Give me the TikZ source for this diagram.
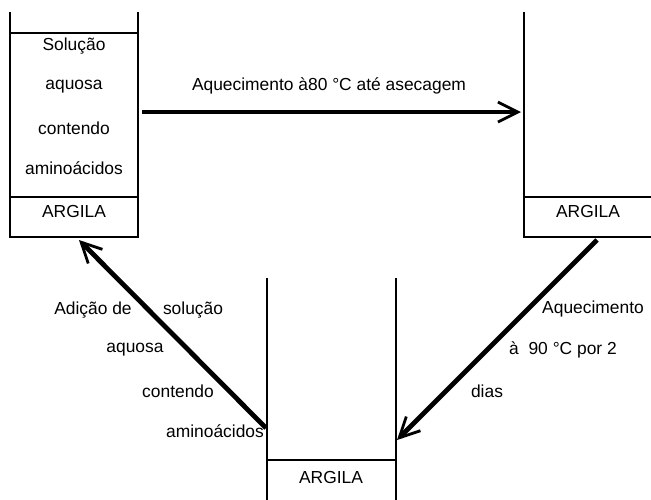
\documentclass[tikz,border=0pt]{standalone}
\usepackage{fontspec}
\setmainfont{Liberation Sans}
\usetikzlibrary{arrows.meta}
\tikzset{
  wall/.style={line width=0.75pt},
  flow/.style={line width=2.4pt, -{Straight Barb[length=10pt,width=10pt,line width=1.4pt]}},
  lbl/.style={font=\fontsize{8.7}{10}\selectfont, inner sep=0pt},
}
\begin{document}
\begin{tikzpicture}[x=0.5pt,y=-0.5pt]
\useasboundingbox (0,0) rectangle (651,499);
% left beaker
\draw[wall] (10,12) -- (10,237) -- (138,237) -- (138,12);
\draw[wall] (10,33) -- (138,33);
\draw[wall] (10,197) -- (138,197);
\node[lbl] (sol1) at (74,46) {Solução};
\node[lbl] (sol2) at (74,87) {aquosa};
\node[lbl] (sol3) at (74,128) {contendo};
\node[lbl] (sol4) at (74,168) {aminoácidos};
\node[lbl] (argL) at (74,212) {ARGILA};
% right beaker
\draw[wall] (524,12) -- (524,237) -- (652,237) -- (652,12);
\draw[wall] (524,197) -- (652,197);
\node[lbl] (argR) at (588,212) {ARGILA};
% bottom beaker
\draw[wall] (267,278) -- (267,502) (396,278) -- (396,502);
\draw[wall] (267,460) -- (396,460);
\node[lbl] (argB) at (331,477) {ARGILA};
% arrow ends
\coordinate (p1) at (142,112);
\coordinate (p2) at (521,112);
\coordinate (q1) at (597,240);
\coordinate (q2) at (397,440);
\coordinate (r1) at (266,428);
\coordinate (r2) at (79,240);
\draw[flow] (p1) -- (p2);
\draw[flow] (q1) -- (q2);
\draw[flow] (r1) -- (r2);
\node[lbl] (heat1) at (329,86) {Aquecimento à80 °C até asecagem};
% right arrow labels
\node[lbl] (heat2a) at (593,309) {Aquecimento};
\node[lbl] (heat2b) at (563,350) {à\ \ 90 °C por 2};
\node[lbl] (heat2c) at (487,391) {dias};
% left arrow labels
\node[lbl] (add1) at (93,310) {Adição de};
\node[lbl] (add2) at (193,310) {solução};
\node[lbl] (add3) at (135,350) {aquosa};
\node[lbl] (add4) at (178,391) {contendo};
\node[lbl] (add5) at (215,431) {aminoácidos};
\end{tikzpicture}
\end{document}
